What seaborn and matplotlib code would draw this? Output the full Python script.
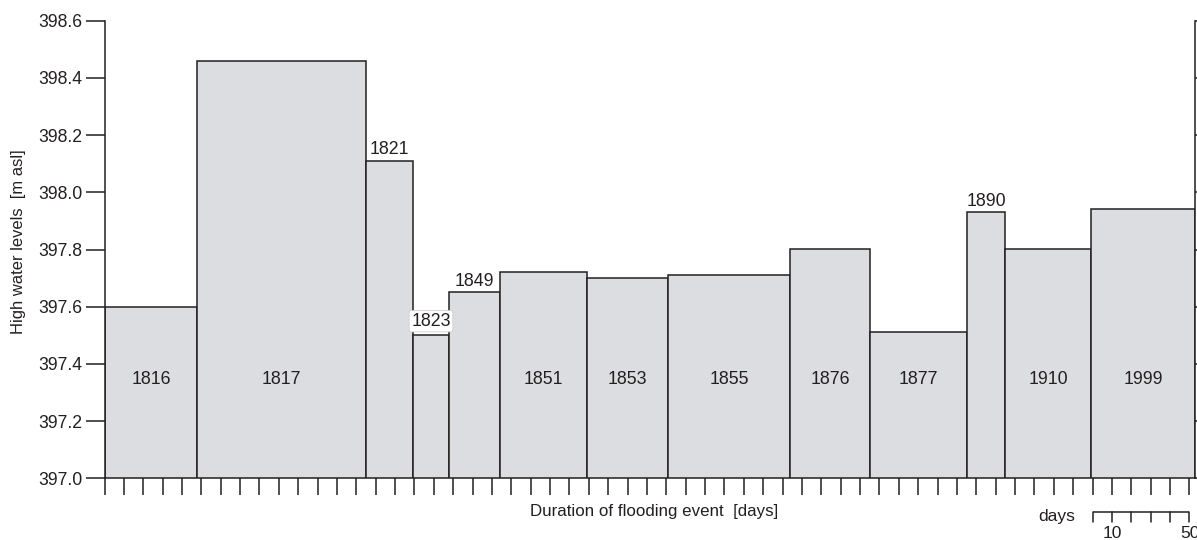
import numpy as np
import pandas as pd
import matplotlib
matplotlib.use("Agg")
import matplotlib.pyplot as plt
from matplotlib.transforms import blended_transform_factory
import seaborn as sns

# Flood events: year, duration (days) and peak high water level (m asl)
years = ["1816", "1817", "1821", "1823", "1849", "1851", "1853",
         "1855", "1876", "1877", "1890", "1910", "1999"]
durations = [48, 87, 24, 19, 26, 45, 42, 63, 41, 50, 20, 44, 54]
levels = [397.60, 398.46, 398.11, 397.50, 397.65, 397.72, 397.70,
          397.71, 397.80, 397.51, 397.93, 397.80, 397.94]

y_ticks = [397.0, 397.2, 397.4, 397.6, 397.8, 398.0, 398.2, 398.4, 398.6]
y_tick_labels = ["397.0", "397.2", "397.4", "397.6", "397.8",
                 "398.0", "398.2", "398.4", "398.6"]

# Scale bar for the duration axis
scale_steps = [0, 10, 20, 30, 40, 50]
scale_labels = ["", "10", "", "", "", "50"]
scale_origin = 510

ink = "#231f20"
fill = "#dcdde0"

sns.set_theme(style="ticks")
plt.rcParams["font.family"] = ["Liberation Sans", "DejaVu Sans"]
plt.rcParams["text.color"] = ink
plt.rcParams["axes.labelcolor"] = ink

df = pd.DataFrame({"year": years, "duration": durations, "level": levels})
edges = [0] + [int(v) for v in np.cumsum(durations)]
df["mid"] = [(a + b) / 2 for a, b in zip(edges[:-1], edges[1:])]

W, H = 1197, 540
fig = plt.figure(figsize=(W / 100, H / 100), dpi=100)
left, right, bottom, top = 104.5, 1195.3, 478.3, 20.7
ax = fig.add_axes([left / W, 1 - bottom / H, (right - left) / W, (bottom - top) / H])

# Variable-width bars: one bin per event, bin height = water level
sns.histplot(data=df, x="mid", weights="level", bins=edges, ax=ax,
             stat="count", color=fill, edgecolor=ink, linewidth=1.1,
             alpha=1.0, shrink=1.0, zorder=2)

ax.set_xlim(0, edges[-1])
ax.set_ylim(y_ticks[0], y_ticks[-1])
ax.set_yticks(y_ticks)
ax.set_yticklabels(y_tick_labels)
ax.set_xticks(np.arange(0, edges[-1], 10))
ax.tick_params(axis="x", direction="out", length=12, width=1.1,
               color=ink, labelbottom=False)
ax.tick_params(axis="y", direction="out", length=14, width=1.1,
               color=ink, labelsize=12.7, labelcolor=ink, pad=2,
               right=True, labelright=False)
ax.spines["top"].set_visible(False)
for side in ("left", "bottom", "right"):
    ax.spines[side].set_color(ink)
    ax.spines[side].set_linewidth(1.1)

ax.set_xlabel("Duration of flooding event  [days]", fontsize=12.2)
ax.xaxis.label.set_va("center")
ax.xaxis.set_label_coords(0.5038, -0.0715)
ax.set_ylabel("High water levels  [m asl]", fontsize=11.9)
ax.yaxis.label.set_va("center")
ax.yaxis.set_label_coords(-0.0784, 0.516)

# Year labels: inside wide bars, above narrow bars
label_size = 12.8
boxed = {"1823"}
for _, row in df.iterrows():
    if row["duration"] >= 30:
        ax.text(row["mid"], 397.345, row["year"], ha="center", va="center",
                fontsize=label_size, color=ink, zorder=3)
    else:
        kw = {}
        dy = 2.0
        if row["year"] in boxed:
            kw["bbox"] = dict(boxstyle="round,pad=0.12", fc="white",
                              ec="#cfcfcf", lw=0.6)
            dy = 4.0
        ax.annotate(row["year"], (row["mid"], row["level"]),
                    xytext=(0, dy), textcoords="offset points",
                    ha="center", va="bottom", fontsize=label_size, color=ink,
                    zorder=4, **kw)

# Duration scale bar below the axis
trans = blended_transform_factory(ax.transData, ax.transAxes)
sx = scale_origin + np.array(scale_steps)
y0, y1 = -0.0736, -0.096
ax.plot([sx[0], sx[-1]], [y0, y0], transform=trans, clip_on=False,
        color=ink, lw=1.1, solid_capstyle="butt")
for x, lab in zip(sx, scale_labels):
    ax.plot([x, x], [y0, y1], transform=trans, clip_on=False, color=ink, lw=1.1)
    if lab:
        ax.text(x, -0.121, lab, transform=trans, ha="center", va="center",
                fontsize=12.5, color=ink)
ax.text(sx[0] - 9, -0.084, "days", transform=trans, ha="right",
        va="center", fontsize=12.5, color=ink)

fig.savefig("out.png", dpi=100)
